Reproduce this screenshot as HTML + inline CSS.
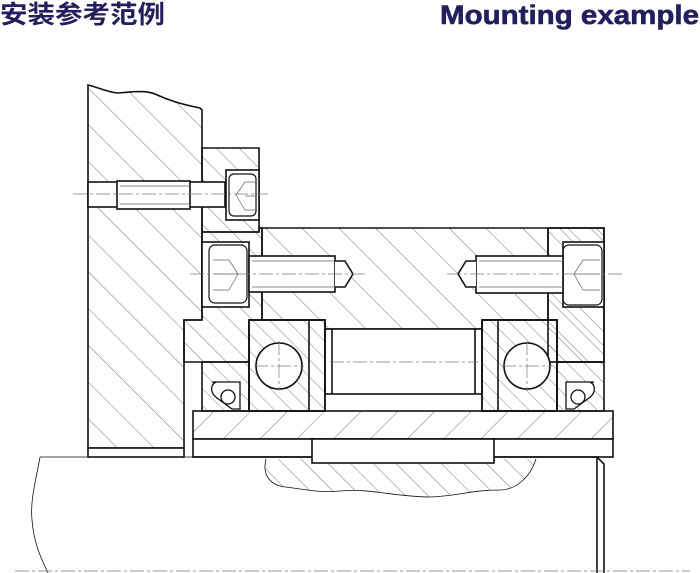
<!DOCTYPE html>
<html><head><meta charset="utf-8"><style>
html,body{margin:0;padding:0;background:#fff;}
svg{display:block}
</style></head><body>
<svg width="700" height="573" viewBox="0 0 700 573" xmlns="http://www.w3.org/2000/svg">
<defs>
<pattern id="hb" patternUnits="userSpaceOnUse" width="26" height="26" patternTransform="rotate(-45)">
<line x1="0" y1="0" x2="0" y2="26" stroke="#555" stroke-width="0.8"/></pattern>
<pattern id="hs" patternUnits="userSpaceOnUse" width="16" height="16" patternTransform="rotate(-45)">
<line x1="0" y1="0" x2="0" y2="16" stroke="#555" stroke-width="0.8"/></pattern>
<pattern id="hf" patternUnits="userSpaceOnUse" width="26" height="26" patternTransform="rotate(45)">
<line x1="0" y1="0" x2="0" y2="26" stroke="#555" stroke-width="0.8"/></pattern>
<pattern id="hx" patternUnits="userSpaceOnUse" width="12" height="12" patternTransform="rotate(-45)">
<line x1="0" y1="0" x2="0" y2="12" stroke="#555" stroke-width="0.7"/></pattern>
</defs>
<text x="0" y="23" font-family="'Liberation Sans','Noto Sans CJK SC',sans-serif" font-weight="bold" font-size="25" fill="#231f5c" textLength="165" lengthAdjust="spacingAndGlyphs">安装参考范例</text>
<text x="440" y="24" font-family="'Liberation Sans',sans-serif" font-weight="bold" font-size="27" fill="#231f5c" stroke="#231f5c" stroke-width="0.6" textLength="259" lengthAdjust="spacingAndGlyphs">Mounting example</text>

<g stroke="#111" stroke-width="1.6" fill="none">
<path d="M88,85 C100,88 110,93 118,93 C130,92 145,90 155,94 C168,100 180,104 200,108 L202,110 L202,320 L184,320 L184,448 L88,448 Z" fill="url(#hb)"/>
<rect x="88" y="448" width="96" height="9" fill="#fff"/>
<path d="M202,148 L259,148 L259,232 L202,232 Z" fill="url(#hs)"/>
<path d="M202,232 L259,232 L259,228 L262,228 L262,320 L249,320 L249,362 L184,362 L184,320 L202,320 Z" fill="url(#hs)"/>
<path d="M259,228 L604,228 L604,362 L557,362 L557,320 L482,320 L482,329 L325,329 L325,320 L262,320 L262,228 Z" fill="url(#hb)"/>
<line x1="548" y1="228" x2="548" y2="320"/>
<rect x="548" y="228" width="56" height="134" fill="url(#hs)"/>
<path d="M40,457 L193,457 M40,457 C36,480 30,500 32,520 C34,545 42,560 48,573" stroke-width="0.8"/>
<rect x="193" y="411" width="420" height="28" fill="url(#hf)"/>
<rect x="193" y="439" width="420" height="18" fill="#fff"/>
<path d="M193,457 L312,457 M494,457 L597,457 L604,464 L604,573 M597,457 L597,573" />
<path d="M266,459 C262,475 270,485 285,487 C310,490 320,493 340,491 C370,488 395,497 430,497 C460,496 470,490 500,490 C515,490 530,478 536,459" fill="url(#hs)" stroke-width="0.8"/>
<rect x="312" y="439" width="182" height="24" fill="#fff"/>
<rect x="325" y="329" width="157" height="65" fill="#fff"/>
<line x1="332" y1="329" x2="332" y2="394"/>
<line x1="475" y1="329" x2="475" y2="394"/>
<rect x="249" y="320" width="76" height="91" fill="url(#hx)"/>
<rect x="249" y="320" width="76" height="91"/>
<line x1="309" y1="320" x2="309" y2="411"/>
<circle cx="279" cy="366" r="23" fill="#fff"/>
<rect x="482" y="320" width="75" height="91" fill="url(#hx)"/>
<rect x="482" y="320" width="75" height="91"/>
<line x1="498" y1="320" x2="498" y2="411"/>
<circle cx="527" cy="366" r="23" fill="#fff"/>
<rect x="202" y="362" width="47" height="49" fill="url(#hx)"/>
<rect x="557" y="362" width="47" height="49" fill="url(#hx)"/>
<path d="M212,382 L240,382 L240,409 L232,409 L217,398 C210,393 210,385 216,382Z" fill="#fff" stroke-width="1.3"/>
<circle cx="228" cy="397" r="7" fill="#fff" stroke-width="1.3"/>
<path d="M594,382 L566,382 L566,409 L574,409 L589,398 C596,393 596,385 590,382Z" fill="#fff" stroke-width="1.3"/>
<circle cx="578" cy="397" r="7" fill="#fff" stroke-width="1.3"/>
<rect x="88" y="182" width="137" height="25" fill="#fff"/>
<rect x="117" y="181" width="73" height="28" fill="#fff"/>
<rect x="226" y="170" width="33" height="50" fill="#fff"/>
<rect x="229" y="174" width="27" height="42" rx="5" stroke-width="1.2"/>
<rect x="202" y="242" width="47" height="65" fill="#fff"/>
<rect x="209" y="245" width="38" height="58" rx="6" stroke-width="1.2"/>
<rect x="249" y="256" width="86" height="36" fill="#fff"/>
<path d="M335,261 L345,261 L353,274 L345,287 L335,287" fill="#fff"/>
<rect x="563" y="242" width="41" height="65" fill="#fff"/>
<rect x="563" y="245" width="39" height="60" rx="6" stroke-width="1.2"/>
<rect x="476" y="256" width="87" height="37" fill="#fff"/>
<path d="M476,261 L466,261 L458,274 L466,287 L476,287" fill="#fff"/>
</g>
<g stroke="#666" stroke-width="0.7" fill="none">
<path d="M120,186 H190 M120,204 H190 M252,261 H335 M252,287 H335 M479,261 H563 M479,287 H563"/>
<path d="M245,182 L236,195 L245,210 M245,182 H256 M245,210 H256 M245,196 H256"/>
<path d="M229,260 L238,274 L229,290 M213,260 H229 M213,290 H229 M213,274 H238"/>
<path d="M583,260 L574,274 L583,290 H600 M583,260 H600 M574,274 H600"/>
</g>
<g stroke="#777" stroke-width="0.7" stroke-dasharray="14,3,3,3" fill="none">
<line x1="73" y1="194" x2="268" y2="194"/>
<line x1="190" y1="274" x2="365" y2="274"/>
<line x1="447" y1="274" x2="622" y2="274"/>
<line x1="330" y1="362" x2="478" y2="362"/>
<line x1="254" y1="366" x2="304" y2="366"/><line x1="279" y1="341" x2="279" y2="391"/>
<line x1="502" y1="366" x2="552" y2="366"/><line x1="527" y1="341" x2="527" y2="391"/>
<line x1="15" y1="571" x2="690" y2="571"/>
</g>
</svg>
</body></html>
